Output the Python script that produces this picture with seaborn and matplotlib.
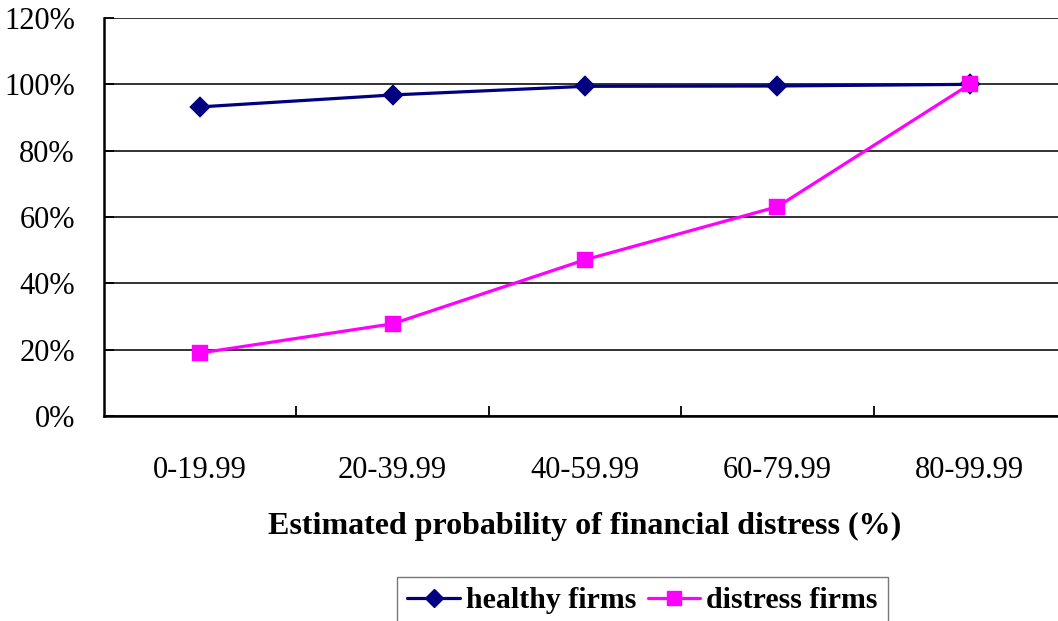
import matplotlib
matplotlib.use("Agg")
import matplotlib.pyplot as plt
import seaborn as sns
import pandas as pd
from matplotlib.ticker import PercentFormatter, FixedLocator
from matplotlib.lines import Line2D

categories = ["0-19.99", "20-39.99", "40-59.99", "60-79.99", "80-99.99"]
healthy = [93.2, 96.8, 99.4, 99.5, 100.0]
distress = [19.0, 27.8, 47.1, 63.1, 100.0]
series_names = ["healthy firms", "distress firms"]
yticks = [0, 20, 40, 60, 80, 100, 120]

df = pd.DataFrame({
    "cat": categories * 2,
    "val": healthy + distress,
    "series": [series_names[0]] * len(categories) + [series_names[1]] * len(categories),
})

sns.set_theme(style="white")
plt.rcParams["font.family"] = ["Liberation Serif", "DejaVu Serif"]
plt.rcParams.update({"text.color": "black", "axes.labelcolor": "black",
                     "xtick.color": "black", "ytick.color": "black"})

NAVY, MAG = "#000080", "#FF00FF"
W, H = 1058, 621
fig = plt.figure(figsize=(W / 100, H / 100), dpi=100)
ax = fig.add_axes([104 / W, 1 - 416 / H, (1066 - 104) / W, (416 - 18) / H])

sns.pointplot(data=df, x="cat", y="val", hue="series", order=categories,
              hue_order=series_names, palette=[NAVY, MAG],
              markers=["D", "s"], linestyles=["-", "-"], errorbar=None,
              markersize=9.5, linewidth=2.3, ax=ax, legend=False)
for ln in ax.lines:
    if ln.get_marker() == "s":
        ln.set_markersize(10.5)

ax.set_ylim(0, 120)
ax.set_xlim(-0.5, 4.5)
ax.set_yticks(yticks)
ax.yaxis.set_major_formatter(PercentFormatter(decimals=0))
ax.grid(axis="y", color="#222222", linewidth=1.3)
ax.set_axisbelow(True)
for s in ["top", "right"]:
    ax.spines[s].set_visible(False)
for s in ["left", "bottom"]:
    ax.spines[s].set_color("black")
    ax.spines[s].set_linewidth(1.8)

ax.tick_params(axis="y", direction="in", length=7, width=1.3, colors="black",
               labelsize=22, pad=21, left=True)
ax.tick_params(axis="x", which="major", length=0, labelsize=22, pad=29)
ax.xaxis.set_minor_locator(FixedLocator([0.5, 1.5, 2.5, 3.5]))
ax.tick_params(axis="x", which="minor", direction="in", length=7, width=1.3,
               color="black", bottom=True)
ax.set_xlabel("Estimated probability of financial distress (%)", fontsize=23,
              fontweight="bold", labelpad=19)
ax.set_ylabel("")

h1 = Line2D([], [], color=NAVY, marker="D", markersize=9.5, linewidth=2.3)
h2 = Line2D([], [], color=MAG, marker="s", markersize=10.5, linewidth=2.3)
leg = fig.legend([h1, h2], series_names, loc="upper left",
                 bbox_to_anchor=(397 / W, 1 - 577 / H), ncol=2, fancybox=False,
                 frameon=True, edgecolor="#555555",
                 prop={"weight": "bold", "size": 21.5},
                 handlelength=1.75, columnspacing=0.4, handletextpad=0.2,
                 borderpad=0.35, borderaxespad=0)
leg.get_frame().set_linewidth(1.0)

fig.savefig("out.png", dpi=100)
